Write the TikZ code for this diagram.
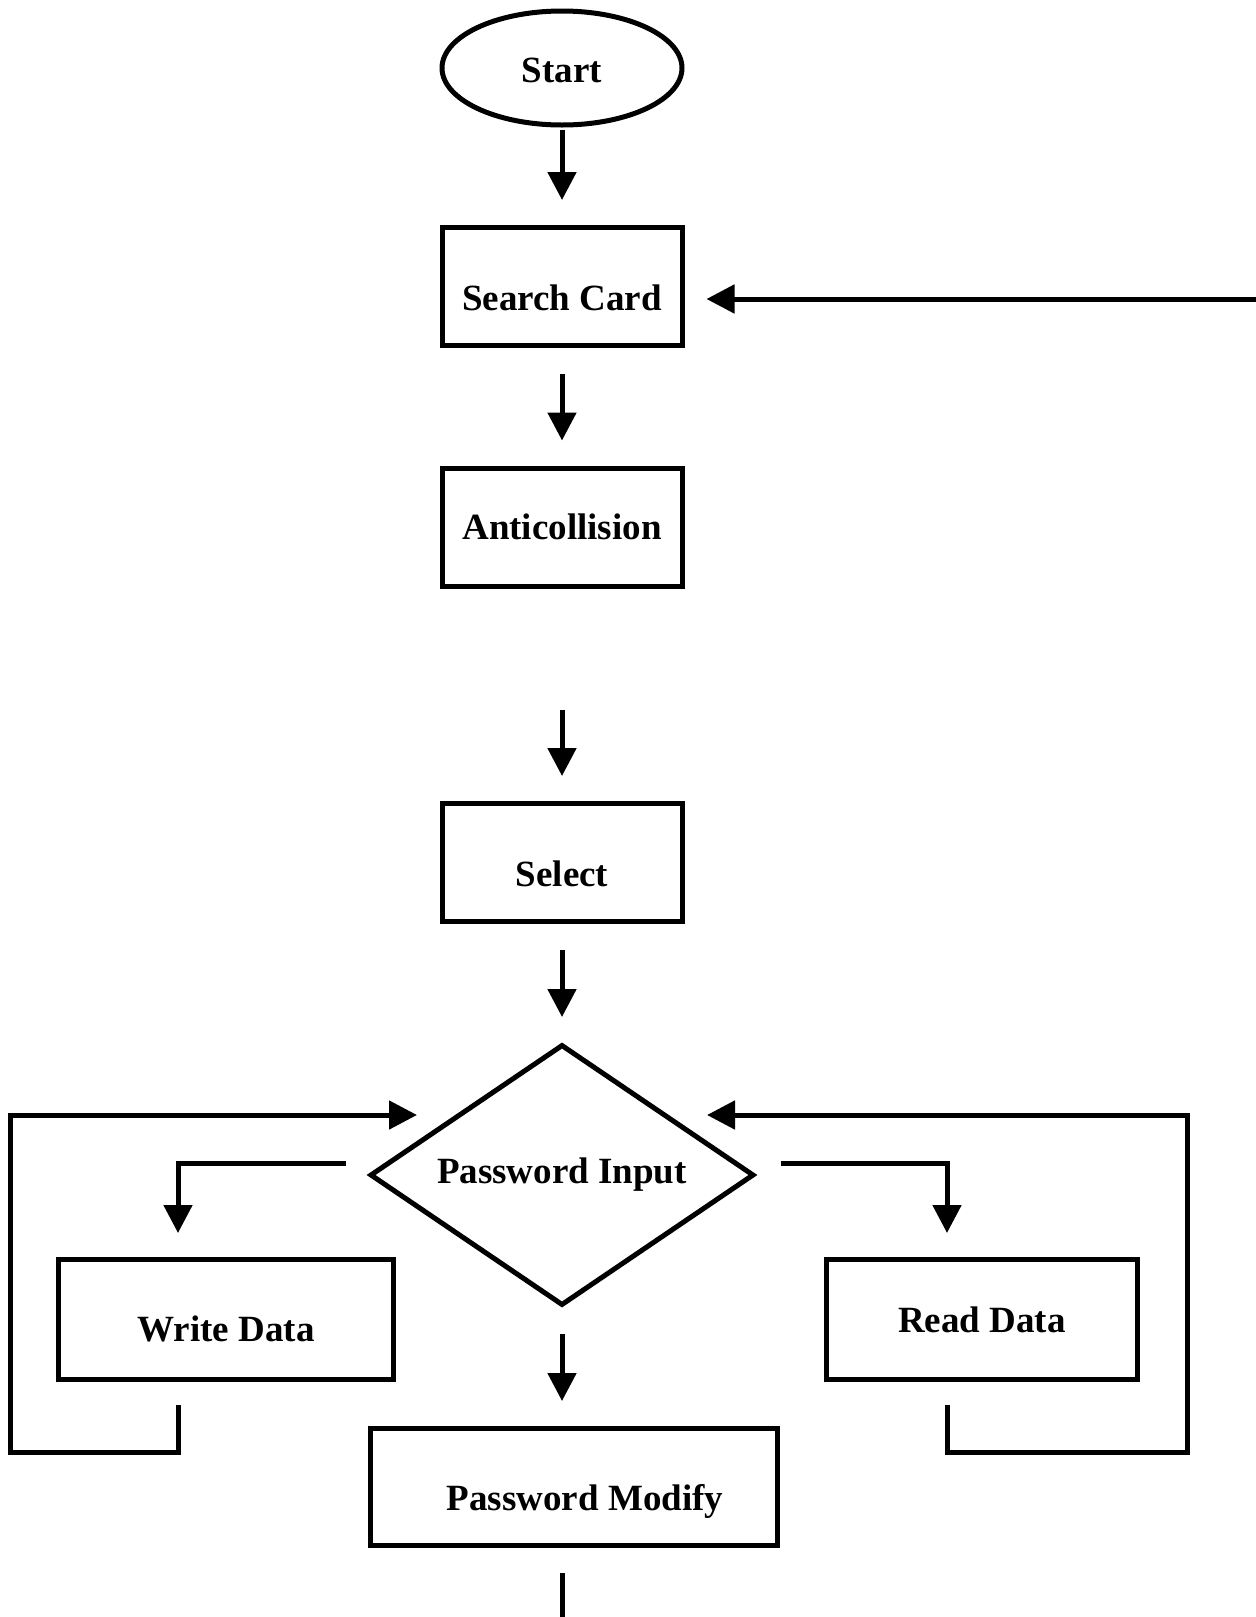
\documentclass[tikz,border=0pt]{standalone}
\usepackage{fontspec}
\setmainfont{Liberation Serif}
\usetikzlibrary{arrows.meta,positioning,shapes.geometric}

\begin{document}
\begin{tikzpicture}[x=0.5pt,y=-0.5pt,line width=2.5pt,
  font=\bfseries\fontsize{18.5}{22}\selectfont,>={Triangle[length=14pt,width=14pt]},
  box/.style={draw,inner sep=0pt,minimum width=120pt,minimum height=59pt},
  low/.style={text height=#1,text depth=0pt},
  gap/.style={shorten <=13pt,shorten >=12.5pt}]
\useasboundingbox (0,0) rectangle (1255,1617);
\node[draw,ellipse,inner sep=0pt,minimum width=120pt,minimum height=57pt,low=14pt] (st) at (562,68) {Start};
\node[box,low=24.2pt] (sc) at (562,286.5) {Search Card};
\node[box] (ac) at (562,527) {Anticollision};
\node[box,low=24.2pt] (sel) at (562,862.5) {Select};
\node[draw,diamond,aspect=1.47,inner sep=0pt,minimum width=192pt,minimum height=130.5pt] (pin) at (562,1175) {Password Input};
\node[box,minimum width=167.5pt,minimum height=60pt,low=22.2pt] (wd) at (226,1319.5) {Write Data};
\node[box,minimum width=155.5pt,minimum height=60pt] (rd) at (982,1319.5) {Read Data};
\node[box,minimum width=203.5pt,minimum height=58.5pt,low=23.2pt] (pm) at (574,1487) {\hspace*{11pt}Password Modify};
\coordinate (back) at (1262,299);
\coordinate (lw) at (10,1452);
\coordinate (rw) at (1187,1452);
\coordinate (end) at (1262,1619.5);
\draw[->,shorten <=1pt,shorten >=12.5pt] (st) -- (sc);
\draw[->,gap] (sc) -- (ac);
\draw[->,gap,shorten <=60.5pt] (ac) -- (sel);
\draw[->,gap] (sel) -- (pin);
\draw[->,gap] (pin.south) -- (pin.south |- pm.north);
\draw[->] (back) -- ([shift={(22,12.5)}]sc.east);
\draw[->] ([shift={(-22,-12)}]pin.west) -| ([shift={(-48,-24)}]wd.north);
\draw[->] ([shift={(24,-12)}]pin.east) -| ([shift={(-35,-24)}]rd.north);
\draw[->] ([shift={(-48,23)}]wd.south) |- (lw) |- ([shift={(-145,-60)}]pin.center);
\draw[->] ([shift={(-35,23)}]rd.south) |- (rw) |- ([shift={(145,-60)}]pin.center);
\draw ([shift={(-12,25)}]pm.south) |- (end);
\end{tikzpicture}
\end{document}
